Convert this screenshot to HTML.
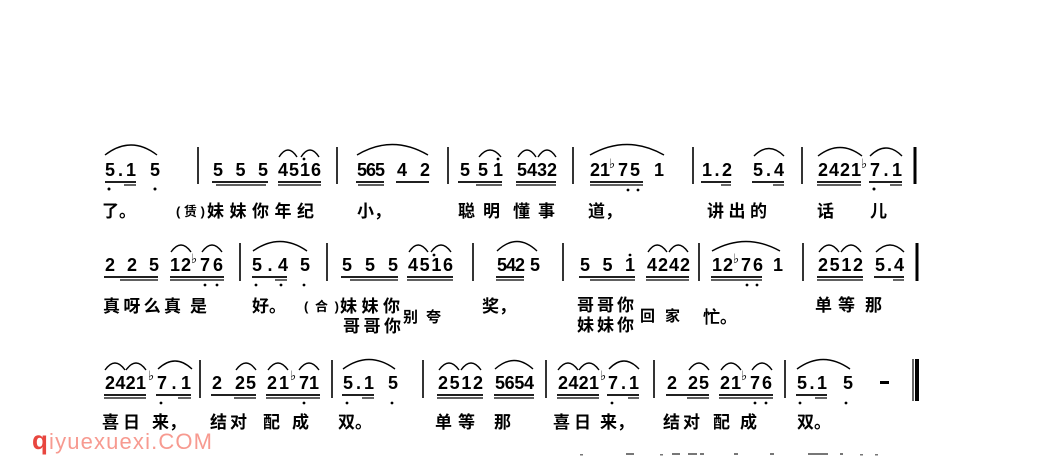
<!DOCTYPE html>
<html><head><meta charset="utf-8"><style>
html,body{margin:0;padding:0;background:#fff;}
svg{display:block;}
.d{font-family:"Liberation Sans",sans-serif;font-weight:bold;font-size:18px;fill:#000;}
.f{font-family:"DejaVu Sans",sans-serif;font-size:13px;fill:#000;}
.l{font-family:"Liberation Sans","Noto Sans CJK SC",sans-serif;font-size:17px;font-weight:bold;fill:#000;}
.m{font-family:"Liberation Sans","Noto Sans CJK SC",sans-serif;font-size:15px;font-weight:bold;fill:#000;}
.s{font-family:"Liberation Sans","Noto Sans CJK SC",sans-serif;font-size:13px;font-weight:bold;fill:#000;}
.u{stroke:#000;stroke-width:1.8;}
.u2{stroke:#000;stroke-width:1.2;}
.b{stroke:#000;stroke-width:1.6;}
.a{fill:none;stroke:#000;stroke-width:1.4;}
</style></head><body>
<svg width="1064" height="472" viewBox="0 0 1064 472" xmlns="http://www.w3.org/2000/svg">
<rect width="1064" height="472" fill="#fff"/>

<!-- ================= ROW 1 ================= -->
<g>
<text class="d" x="105" y="176" textLength="31" lengthAdjust="spacing">5.1</text>
<text class="d" x="150" y="176">5</text>
<line class="u" x1="105" y1="182" x2="136" y2="182"/><line class="u2" x1="124" y1="185" x2="136" y2="185"/>
<circle cx="109" cy="189" r="1.5"/><circle cx="155" cy="189" r="1.5"/>
<path class="a" d="M105 155 Q131 135 157 155"/>
<line class="b" x1="198" y1="147" x2="198" y2="184"/>

<text class="d" x="213" y="176" textLength="55" lengthAdjust="spacing">5 5 5</text>
<line class="u" x1="212" y1="182" x2="268" y2="182"/><line class="u2" x1="216" y1="185" x2="266" y2="185"/>
<text class="d" x="278" y="176" textLength="43" lengthAdjust="spacing">4516</text>
<circle cx="304" cy="159" r="1.4"/>
<line class="u" x1="278" y1="182" x2="321" y2="182"/><line class="u2" x1="278" y1="185" x2="321" y2="185"/>
<path class="a" d="M279 157 Q288 143 297 157"/><path class="a" d="M301 157 Q310 143 319 157"/>
<line class="b" x1="337" y1="147" x2="337" y2="184"/>

<text class="d" x="357" y="176" textLength="28" lengthAdjust="spacing">565</text>
<text class="d" x="397" y="176" textLength="33" lengthAdjust="spacing">4 2</text>
<line class="u" x1="356" y1="182" x2="384" y2="182"/><line class="u2" x1="358" y1="185" x2="384" y2="185"/>
<line class="u" x1="396" y1="182" x2="429" y2="182"/>
<path class="a" d="M357 155 Q392 134 428 155"/>
<line class="b" x1="448" y1="147" x2="448" y2="184"/>

<text class="d" x="460" y="176">5</text>
<text class="d" x="478" y="176" textLength="25" lengthAdjust="spacing">51</text>
<circle cx="498" cy="159" r="1.4"/>
<line class="u" x1="458" y1="182" x2="502" y2="182"/><line class="u2" x1="476" y1="185" x2="502" y2="185"/>
<path class="a" d="M479 157 Q490 143 501 157"/>
<text class="d" x="517" y="176" textLength="40" lengthAdjust="spacing">5432</text>
<line class="u" x1="516" y1="182" x2="556" y2="182"/><line class="u2" x1="516" y1="185" x2="556" y2="185"/>
<path class="a" d="M518 157 Q527 143 536 157"/><path class="a" d="M538 157 Q547 143 556 157"/>
<line class="b" x1="573" y1="147" x2="573" y2="184"/>

<text class="d" x="590" y="176" textLength="20" lengthAdjust="spacing">21</text>
<text class="f" x="609" y="168">♭</text>
<text class="d" x="618" y="176" textLength="22" lengthAdjust="spacing">75</text>
<text class="d" x="654" y="176">1</text>
<line class="u" x1="590" y1="182" x2="643" y2="182"/><line class="u2" x1="590" y1="185" x2="643" y2="185"/>
<circle cx="628" cy="190" r="1.4"/><circle cx="638" cy="190" r="1.4"/>
<path class="a" d="M590 155 Q627 134 664 155"/>
<line class="b" x1="693" y1="147" x2="693" y2="184"/>

<text class="d" x="702" y="176" textLength="30" lengthAdjust="spacing">1.2</text>
<text class="d" x="753" y="176" textLength="31" lengthAdjust="spacing">5.4</text>
<line class="u" x1="701" y1="182" x2="731" y2="182"/><line class="u2" x1="721" y1="185" x2="731" y2="185"/>
<line class="u" x1="752" y1="182" x2="784" y2="182"/><line class="u2" x1="773" y1="185" x2="784" y2="185"/>
<path class="a" d="M754 156 Q769 141 784 156"/>
<line class="b" x1="802" y1="147" x2="802" y2="184"/>

<text class="d" x="818" y="176" textLength="43" lengthAdjust="spacing">2421</text>
<line class="u" x1="817" y1="182" x2="861" y2="182"/><line class="u2" x1="817" y1="185" x2="861" y2="185"/>
<path class="a" d="M818 156 Q840 139 862 156"/>
<text class="f" x="861" y="168">♭</text>
<text class="d" x="870" y="176" textLength="32" lengthAdjust="spacing">7.1</text>
<line class="u" x1="869" y1="182" x2="902" y2="182"/><line class="u2" x1="890" y1="185" x2="902" y2="185"/>
<circle cx="874" cy="189" r="1.5"/>
<path class="a" d="M870 156 Q886 140 902 156"/>
<line stroke="#000" stroke-width="3" x1="915" y1="147" x2="915" y2="184"/>
</g>

<!-- Row 1 lyrics -->
<text class="l" x="102" y="217">了。</text>
<text class="s" x="176" y="216" textLength="29" lengthAdjust="spacing">(赁)</text>
<text class="l" x="207" y="217" textLength="107" lengthAdjust="spacing">妹妹你年纪</text>
<text class="l" x="357" y="217">小，</text>
<text class="l" x="458" y="217" textLength="42" lengthAdjust="spacing">聪明</text>
<text class="l" x="513" y="217" textLength="42" lengthAdjust="spacing">懂事</text>
<text class="l" x="588" y="217">道，</text>
<text class="l" x="707" y="217" textLength="60" lengthAdjust="spacing">讲出的</text>
<text class="l" x="817" y="217">话</text>
<text class="l" x="870" y="217">儿</text>

<!-- ================= ROW 2 ================= -->
<g>
<text class="d" x="105" y="271" textLength="54" lengthAdjust="spacing">2 2 5</text>
<line class="u" x1="104" y1="277" x2="158" y2="277"/><line class="u2" x1="120" y1="280" x2="158" y2="280"/>
<text class="d" x="170" y="271" textLength="21" lengthAdjust="spacing">12</text>
<text class="f" x="191" y="263">♭</text>
<text class="d" x="200" y="271" textLength="23" lengthAdjust="spacing">76</text>
<line class="u" x1="170" y1="277" x2="224" y2="277"/><line class="u2" x1="170" y1="280" x2="224" y2="280"/>
<circle cx="205" cy="285" r="1.4"/><circle cx="217" cy="285" r="1.4"/>
<path class="a" d="M171 252 Q181 238 191 252"/><path class="a" d="M202 252 Q212 238 222 252"/>
<line class="b" x1="240" y1="243" x2="240" y2="281"/>

<text class="d" x="252" y="271" textLength="36" lengthAdjust="spacing">5.4</text>
<text class="d" x="300" y="271">5</text>
<line class="u" x1="252" y1="277" x2="287" y2="277"/><line class="u2" x1="275" y1="280" x2="287" y2="280"/>
<circle cx="256" cy="285" r="1.4"/><circle cx="281" cy="285" r="1.4"/><circle cx="304" cy="285" r="1.4"/>
<path class="a" d="M253 251 Q280 232 307 251"/>
<line class="b" x1="327" y1="243" x2="327" y2="281"/>

<text class="d" x="342" y="271" textLength="56" lengthAdjust="spacing">5 5 5</text>
<line class="u" x1="341" y1="277" x2="398" y2="277"/><line class="u2" x1="350" y1="280" x2="398" y2="280"/>
<text class="d" x="408" y="271" textLength="45" lengthAdjust="spacing">4516</text>
<circle cx="434" cy="255" r="1.4"/>
<line class="u" x1="407" y1="277" x2="453" y2="277"/><line class="u2" x1="407" y1="280" x2="453" y2="280"/>
<path class="a" d="M409 252 Q418 238 428 252"/><path class="a" d="M431 252 Q441 238 451 252"/>
<line class="b" x1="473" y1="243" x2="473" y2="281"/>

<text class="d" x="497" y="271" textLength="28" lengthAdjust="spacing">542</text>
<text class="d" x="530" y="271">5</text>
<line class="u" x1="496" y1="277" x2="524" y2="277"/><line class="u2" x1="496" y1="280" x2="524" y2="280"/>
<path class="a" d="M497 251 Q517 232 537 251"/>
<line class="b" x1="563" y1="243" x2="563" y2="281"/>

<text class="d" x="580" y="271" textLength="55" lengthAdjust="spacing">5 5 1</text>
<circle cx="630" cy="255" r="1.4"/>
<line class="u" x1="579" y1="277" x2="635" y2="277"/><line class="u2" x1="590" y1="280" x2="635" y2="280"/>
<text class="d" x="647" y="271" textLength="43" lengthAdjust="spacing">4242</text>
<line class="u" x1="646" y1="277" x2="689" y2="277"/><line class="u2" x1="646" y1="280" x2="689" y2="280"/>
<path class="a" d="M648 252 Q657 238 667 252"/><path class="a" d="M669 252 Q678 238 688 252"/>
<line class="b" x1="699" y1="243" x2="699" y2="281"/>

<text class="d" x="712" y="271" textLength="21" lengthAdjust="spacing">12</text>
<text class="f" x="733" y="263">♭</text>
<text class="d" x="741" y="271" textLength="22" lengthAdjust="spacing">76</text>
<text class="d" x="773" y="271">1</text>
<line class="u" x1="711" y1="277" x2="762" y2="277"/><line class="u2" x1="711" y1="280" x2="762" y2="280"/>
<circle cx="747" cy="285" r="1.4"/><circle cx="757" cy="285" r="1.4"/>
<path class="a" d="M712 251 Q746 232 780 251"/>
<line class="b" x1="803" y1="243" x2="803" y2="281"/>

<text class="d" x="818" y="271" textLength="45" lengthAdjust="spacing">2512</text>
<line class="u" x1="817" y1="277" x2="863" y2="277"/><line class="u2" x1="817" y1="280" x2="863" y2="280"/>
<path class="a" d="M819 252 Q829 238 839 252"/><path class="a" d="M841 252 Q851 238 861 252"/>
<text class="d" x="875" y="271" textLength="29" lengthAdjust="spacing">5.4</text>
<line class="u" x1="874" y1="277" x2="904" y2="277"/><line class="u2" x1="893" y1="280" x2="904" y2="280"/>
<path class="a" d="M876 252 Q890 238 904 252"/>
<line stroke="#000" stroke-width="3" x1="917" y1="243" x2="917" y2="281"/>
</g>

<!-- Row 2 lyrics -->
<text class="l" x="103" y="312" textLength="78" lengthAdjust="spacing">真呀么真</text>
<text class="l" x="190" y="312">是</text>
<text class="l" x="252" y="312">好。</text>
<text class="s" x="304" y="311" textLength="35" lengthAdjust="spacing">(合)</text>
<text class="l" x="340" y="312" textLength="60" lengthAdjust="spacing">妹妹你</text>
<text class="l" x="343" y="332" textLength="58" lengthAdjust="spacing">哥哥你</text>
<text class="m" x="403" y="322" textLength="38" lengthAdjust="spacing">别夸</text>
<text class="l" x="482" y="312">奖，</text>
<text class="l" x="577" y="311" textLength="57" lengthAdjust="spacing">哥哥你</text>
<text class="l" x="577" y="331" textLength="57" lengthAdjust="spacing">妹妹你</text>
<text class="m" x="640" y="321" textLength="40" lengthAdjust="spacing">回家</text>
<text class="l" x="703" y="323">忙。</text>
<text class="l" x="815" y="311" textLength="40" lengthAdjust="spacing">单等</text>
<text class="l" x="865" y="311">那</text>

<!-- ================= ROW 3 ================= -->
<g>
<text class="d" x="105" y="389" textLength="41" lengthAdjust="spacing">2421</text>
<line class="u" x1="104" y1="395" x2="146" y2="395"/><line class="u2" x1="104" y1="398" x2="146" y2="398"/>
<path class="a" d="M105 370 Q115 356 125 370"/><path class="a" d="M126 370 Q136 356 146 370"/>
<text class="f" x="148" y="380">♭</text>
<text class="d" x="157" y="389" textLength="34" lengthAdjust="spacing">7.1</text>
<line class="u" x1="156" y1="395" x2="191" y2="395"/><line class="u2" x1="178" y1="398" x2="191" y2="398"/>
<circle cx="161" cy="403" r="1.4"/>
<path class="a" d="M158 369 Q175 353 192 369"/>
<line class="b" x1="200" y1="360" x2="200" y2="398"/>

<text class="d" x="212" y="389">2</text>
<text class="d" x="235" y="389" textLength="21" lengthAdjust="spacing">25</text>
<line class="u" x1="211" y1="395" x2="256" y2="395"/><line class="u2" x1="234" y1="398" x2="256" y2="398"/>
<path class="a" d="M236 370 Q246 356 256 370"/>
<text class="d" x="267" y="389" textLength="22" lengthAdjust="spacing">21</text>
<text class="f" x="290" y="380">♭</text>
<text class="d" x="299" y="389" textLength="20" lengthAdjust="spacing">71</text>
<line class="u" x1="266" y1="395" x2="320" y2="395"/><line class="u2" x1="266" y1="398" x2="320" y2="398"/>
<circle cx="304" cy="403" r="1.4"/>
<path class="a" d="M268 370 Q278 356 288 370"/><path class="a" d="M299 370 Q309 356 319 370"/>
<line class="b" x1="332" y1="360" x2="332" y2="398"/>

<text class="d" x="343" y="389" textLength="31" lengthAdjust="spacing">5.1</text>
<text class="d" x="388" y="389">5</text>
<line class="u" x1="342" y1="395" x2="374" y2="395"/><line class="u2" x1="362" y1="398" x2="374" y2="398"/>
<circle cx="347" cy="403" r="1.4"/><circle cx="392" cy="403" r="1.4"/>
<path class="a" d="M343 369 Q369 350 395 369"/>
<line class="b" x1="423" y1="360" x2="423" y2="398"/>

<text class="d" x="438" y="389" textLength="45" lengthAdjust="spacing">2512</text>
<line class="u" x1="437" y1="395" x2="483" y2="395"/><line class="u2" x1="437" y1="398" x2="483" y2="398"/>
<path class="a" d="M439 370 Q449 356 459 370"/><path class="a" d="M461 370 Q471 356 481 370"/>
<text class="d" x="495" y="389" textLength="39" lengthAdjust="spacing">5654</text>
<line class="u" x1="494" y1="395" x2="534" y2="395"/><line class="u2" x1="494" y1="398" x2="534" y2="398"/>
<path class="a" d="M495 369 Q514 352 533 369"/>
<line class="b" x1="546" y1="360" x2="546" y2="398"/>

<text class="d" x="558" y="389" textLength="41" lengthAdjust="spacing">2421</text>
<line class="u" x1="557" y1="395" x2="599" y2="395"/><line class="u2" x1="557" y1="398" x2="599" y2="398"/>
<path class="a" d="M558 370 Q568 356 578 370"/><path class="a" d="M579 370 Q589 356 599 370"/>
<text class="f" x="600" y="380">♭</text>
<text class="d" x="608" y="389" textLength="31" lengthAdjust="spacing">7.1</text>
<line class="u" x1="607" y1="395" x2="639" y2="395"/><line class="u2" x1="628" y1="398" x2="639" y2="398"/>
<circle cx="612" cy="403" r="1.4"/>
<path class="a" d="M609 369 Q624 353 639 369"/>
<line class="b" x1="654" y1="360" x2="654" y2="398"/>

<text class="d" x="667" y="389">2</text>
<text class="d" x="688" y="389" textLength="21" lengthAdjust="spacing">25</text>
<line class="u" x1="666" y1="395" x2="709" y2="395"/><line class="u2" x1="687" y1="398" x2="709" y2="398"/>
<path class="a" d="M689 370 Q699 356 709 370"/>
<text class="d" x="720" y="389" textLength="21" lengthAdjust="spacing">21</text>
<text class="f" x="741" y="380">♭</text>
<text class="d" x="750" y="389" textLength="22" lengthAdjust="spacing">76</text>
<line class="u" x1="719" y1="395" x2="773" y2="395"/><line class="u2" x1="719" y1="398" x2="773" y2="398"/>
<circle cx="755" cy="403" r="1.4"/><circle cx="766" cy="403" r="1.4"/>
<path class="a" d="M721 370 Q731 356 741 370"/><path class="a" d="M752 370 Q762 356 772 370"/>
<line class="b" x1="785" y1="360" x2="785" y2="398"/>

<text class="d" x="797" y="389" textLength="30" lengthAdjust="spacing">5.1</text>
<text class="d" x="843" y="389">5</text>
<line class="u" x1="796" y1="395" x2="827" y2="395"/><line class="u2" x1="815" y1="398" x2="827" y2="398"/>
<circle cx="800" cy="403" r="1.4"/><circle cx="846" cy="403" r="1.4"/>
<path class="a" d="M797 369 Q823 350 850 369"/>
<rect x="880" y="381" width="9" height="3" fill="#000"/>
<line stroke="#000" stroke-width="1.2" x1="913" y1="359" x2="913" y2="401"/>
<rect x="915" y="359" width="4" height="42" fill="#000"/>
</g>

<!-- Row 3 lyrics -->
<text class="l" x="102" y="428" textLength="38" lengthAdjust="spacing">喜日</text>
<text class="l" x="152" y="428">来，</text>
<text class="l" x="210" y="428" textLength="37" lengthAdjust="spacing">结对</text>
<text class="l" x="263" y="428">配</text>
<text class="l" x="292" y="428">成</text>
<text class="l" x="338" y="428">双。</text>
<text class="l" x="435" y="428" textLength="40" lengthAdjust="spacing">单等</text>
<text class="l" x="494" y="428">那</text>
<text class="l" x="553" y="428" textLength="38" lengthAdjust="spacing">喜日</text>
<text class="l" x="600" y="428">来，</text>
<text class="l" x="663" y="428" textLength="37" lengthAdjust="spacing">结对</text>
<text class="l" x="713" y="428">配</text>
<text class="l" x="740" y="428">成</text>
<text class="l" x="797" y="428">双。</text>

<!-- watermark -->
<text x="32" y="449" style="font-family:'Liberation Sans',sans-serif;font-size:22px;" textLength="180" lengthAdjust="spacing"><tspan fill="#e8463f" font-weight="bold" font-size="26">q</tspan><tspan fill="#f79a90">iyuexuexi.COM</tspan></text>

<!-- faint scan marks of next row -->
<g fill="#777">
<rect x="580" y="454" width="3" height="1.5"/><rect x="626" y="453" width="8" height="2"/>
<rect x="660" y="454" width="3" height="1.5"/><rect x="672" y="453" width="8" height="2"/>
<rect x="688" y="453" width="9" height="2"/><rect x="700" y="453" width="4" height="2"/>
<rect x="734" y="453" width="4" height="2"/><rect x="770" y="453" width="4" height="2"/>
<rect x="808" y="453" width="20" height="2"/><rect x="840" y="453" width="3" height="2"/>
<rect x="860" y="454" width="3" height="1.5"/><rect x="875" y="454" width="3" height="1.5"/>
</g>
</svg>
</body></html>
